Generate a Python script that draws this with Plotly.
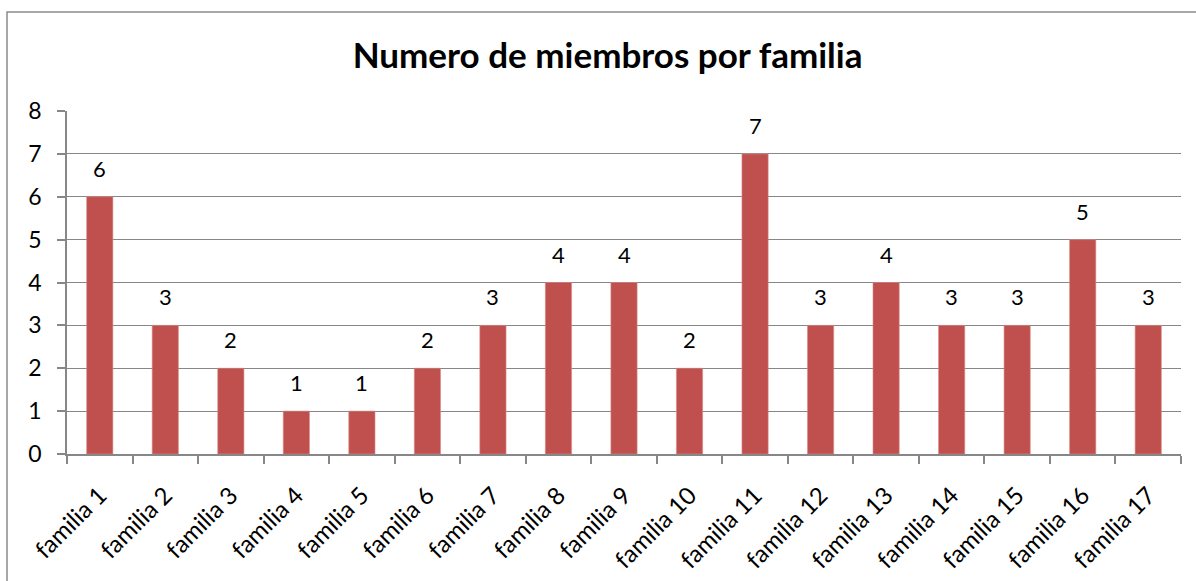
import plotly.graph_objects as go

categories = ["familia 1", "familia 2", "familia 3", "familia 4", "familia 5",
              "familia 6", "familia 7", "familia 8", "familia 9", "familia 10",
              "familia 11", "familia 12", "familia 13", "familia 14", "familia 15",
              "familia 16", "familia 17"]
miembros = [6, 3, 2, 1, 1, 2, 3, 4, 4, 2, 7, 3, 4, 3, 3, 5, 3]
y_ticks = [0, 1, 2, 3, 4, 5, 6, 7, 8]
title_text = "Numero de miembros por familia"

FONT = "Lato, 'Open Sans', sans-serif"
GRID = "#878787"
BAR = "#C0504D"

positions = list(range(len(categories)))
boundaries = [p - 0.5 for p in positions] + [positions[-1] + 0.5]

fig = go.Figure()
fig.add_trace(go.Bar(
    x=positions, y=miembros, marker=dict(color=BAR, line=dict(color="#D88A88", width=0.6)),
    width=0.4, hoverinfo="x+y"))

annotations = []
for p, v in zip(positions, miembros):
    annotations.append(dict(x=p, y=v, text=str(v), showarrow=False, yanchor="bottom",
                            yshift=13, font=dict(family=FONT, size=22, color="#000000")))

fig.update_layout(
    width=1196, height=581,
    margin=dict(l=67, r=15, t=111, b=127, autoexpand=False),
    paper_bgcolor="white", plot_bgcolor="white",
    showlegend=False,
    title=dict(text=title_text, x=0.508, xanchor="center", y=1 - 56 / 581, yanchor="middle",
               font=dict(family=FONT, size=35, color="#000000", weight="bold")),
    annotations=annotations,
    xaxis=dict(range=[-0.5, len(categories) - 0.5], tickmode="array", tickvals=positions,
               ticktext=categories, tickangle=-45, ticks="", showgrid=False,
               showline=True, linecolor=GRID, linewidth=1.5,
               ticklabelstandoff=16,
               tickfont=dict(family=FONT, size=24, color="#000000"),
               minor=dict(tickmode="array", tickvals=boundaries, ticks="outside",
                          ticklen=8, tickcolor=GRID, tickwidth=1.5, showgrid=False),
               zeroline=False),
    yaxis=dict(range=[0, 8], tickmode="array", tickvals=y_ticks, ticks="outside", ticklen=8,
               tickcolor=GRID, tickwidth=1.5, showgrid=True, gridcolor=GRID, gridwidth=1.3,
               showline=True, linecolor=GRID, linewidth=1.5, zeroline=False,
               ticklabelstandoff=11,
               tickfont=dict(family=FONT, size=23, color="#000000")),
    shapes=[dict(type="rect", xref="paper", yref="paper",
                 x0=(7 - 67) / 1114, x1=1.05, y0=-0.5, y1=(454 - 12) / 343,
                 line=dict(color="#8C8C8C", width=1.5), fillcolor="rgba(0,0,0,0)", layer="below")],
)

fig.write_html("out.html", config={"displayModeBar": False},
               post_script="document.body.style.margin='0';document.body.style.overflow='hidden';")
